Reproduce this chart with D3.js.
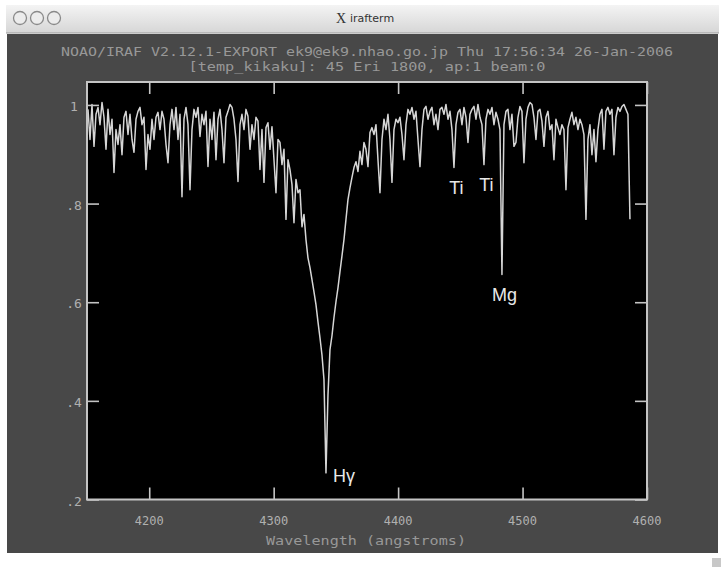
<!DOCTYPE html>
<html><head><meta charset="utf-8">
<script src="https://cdn.jsdelivr.net/npm/d3@7"></script>
<style>html,body{margin:0;padding:0;background:#fff;}svg{display:block}</style>
</head><body>
<svg id="c" width="727" height="573"></svg>
<script>
// ---------- data ----------
const windowTitle = "irafterm";
const headerLines = [
  "NOAO/IRAF V2.12.1-EXPORT ek9@ek9.nhao.go.jp Thu 17:56:34 26-Jan-2006",
  "[temp_kikaku]: 45 Eri 1800, ap:1 beam:0"
];
const xTicks = [4200, 4300, 4400, 4500, 4600];
const xTickLabels = ["4200", "4300", "4400", "4500", "4600"];
const yTicks = [0.2, 0.4, 0.6, 0.8, 1.0];
const yTickLabels = [".2", ".4", ".6", ".8", "1"];
const xTitle = "Wavelength (angstroms)";
// dispersion solution (start wavelength, angstroms per pixel)
const startWavelength = 4150.8;
const wavelengthStep = 1.607;
// normalised flux
const flux = [
  0.991,0.930,1.001,0.916,0.981,0.995,0.960,1.005,0.975,0.910,
  0.991,0.940,0.971,0.863,0.950,0.920,0.960,0.899,0.975,0.987,
  0.940,0.981,0.930,0.904,0.971,0.987,0.995,0.960,0.975,0.869,
  0.940,0.910,0.971,0.930,0.975,0.985,0.950,0.987,0.971,0.920,
  0.883,0.960,0.991,0.950,0.995,0.930,0.981,0.814,0.971,0.995,
  0.960,0.828,0.950,0.991,0.975,0.995,0.936,0.981,0.960,0.987,
  0.875,0.971,0.930,0.985,0.889,0.971,0.991,0.950,0.883,0.975,
  0.987,1.001,0.995,0.971,0.930,0.845,0.960,0.981,0.950,0.991,
  0.977,0.910,0.960,0.930,0.975,0.967,0.869,0.950,0.843,0.954,
  0.964,0.910,0.956,0.889,0.822,0.930,0.924,0.879,0.910,0.768,
  0.889,0.869,0.839,0.761,0.849,0.822,0.828,0.753,0.778,0.727,
  0.690,0.670,0.646,0.621,0.595,0.560,0.528,0.493,0.443,0.254,
  0.412,0.504,0.532,0.569,0.601,0.629,0.662,0.694,0.727,0.768,
  0.808,0.832,0.853,0.873,0.885,0.865,0.906,0.879,0.924,0.910,
  0.875,0.944,0.954,0.940,0.960,0.889,0.822,0.930,0.971,0.950,
  0.981,0.930,0.843,0.950,0.971,0.964,0.975,0.940,0.889,0.960,
  0.991,0.981,0.995,0.971,0.987,0.930,0.875,0.950,0.991,0.997,
  0.971,0.987,0.995,0.960,0.981,0.950,0.991,0.995,0.981,1.001,
  0.971,0.987,0.950,0.873,0.960,0.985,0.991,0.960,0.995,0.975,
  0.924,0.981,0.991,0.997,0.971,1.001,0.975,0.960,0.879,0.971,
  0.991,0.981,0.995,0.960,0.985,0.971,0.950,0.656,0.960,0.987,
  0.991,0.950,0.981,0.916,0.924,0.975,0.997,0.987,0.883,0.971,
  0.995,1.005,1.001,0.975,0.930,0.987,0.991,0.967,0.916,0.975,
  0.987,0.950,0.960,0.889,0.971,0.954,0.940,0.960,0.950,0.828,
  0.954,0.971,0.985,0.960,0.975,0.950,0.971,0.960,0.940,0.768,
  0.930,0.960,0.899,0.950,0.885,0.950,0.981,0.991,0.910,0.987,
  0.995,0.981,0.991,0.899,0.975,0.995,0.987,0.997,1.001,0.991,
  0.981,0.768
];
const lineLabels = ["Ti", "Ti", "Mg", "H\u03b3"];
const lineWavelengths = [4443.8, 4468.5, 4481.2, 4340.5];

// ---------- drawing ----------
const svg = d3.select("#c");
const W = 727, H = 573;
const plot = {left: 87, right: 647, top: 82, bottom: 499.5};

// window chrome
const defs = svg.append("defs");
const g1 = defs.append("linearGradient").attr("id","tb").attr("x1",0).attr("y1",0).attr("x2",0).attr("y2",1);
g1.append("stop").attr("offset","0%").attr("stop-color","#f4f4f4");
g1.append("stop").attr("offset","100%").attr("stop-color","#d6d6d6");

svg.append("rect").attr("x",0).attr("y",0).attr("width",W).attr("height",H).attr("fill","#ffffff");
svg.append("rect").attr("x",6).attr("y",5).attr("width",713).attr("height",28).attr("fill","url(#tb)");
svg.append("line").attr("x1",6).attr("x2",719).attr("y1",33).attr("y2",33).attr("stroke","#9a9a9a").attr("stroke-width",1);
[20, 37, 54].forEach(cx => {
  svg.append("circle").attr("cx",cx).attr("cy",18).attr("r",6.5)
    .attr("fill","#ececec").attr("stroke","#8a8a8a").attr("stroke-width",1.3);
});
svg.append("text").attr("x",336).attr("y",23).attr("font-family","Liberation Serif, serif")
  .attr("font-size",14).attr("fill","#333").text("X");
svg.append("text").attr("x",350).attr("y",22).attr("font-family","DejaVu Sans, sans-serif")
  .attr("font-size",11).attr("fill","#333").text(windowTitle);

// terminal background
svg.append("rect").attr("x",7).attr("y",34).attr("width",711).attr("height",519).attr("fill","#484848");
svg.append("rect").attr("x",712).attr("y",558).attr("width",9).attr("height",9).attr("fill","#c8c8c8");

// plot area
svg.append("rect").attr("x",plot.left).attr("y",plot.top)
  .attr("width",plot.right-plot.left).attr("height",plot.bottom-plot.top).attr("fill","#000");

const x = d3.scaleLinear().domain([4150, 4600]).range([plot.left, plot.right]);
const y = d3.scaleLinear().domain([0.2, 1.0465]).range([plot.bottom, plot.top]);

const spectrum = flux.map((f, i) => ({w: startWavelength + i * wavelengthStep, f}));

const clip = defs.append("clipPath").attr("id","pc");
clip.append("rect").attr("x",plot.left).attr("y",plot.top)
  .attr("width",plot.right-plot.left).attr("height",plot.bottom-plot.top);

svg.append("path").datum(spectrum)
  .attr("clip-path","url(#pc)")
  .attr("fill","none").attr("stroke","#d6d6d6").attr("stroke-width",1.5)
  .attr("stroke-linejoin","round")
  .attr("d", d3.line().x(d => x(d.w)).y(d => y(d.f)));

// frame & ticks
const frameColor = "#c4c4c4";
const tickLen = 12;
const axG = svg.append("g");
axG.append("g").attr("transform",`translate(0,${plot.bottom})`)
  .call(d3.axisBottom(x).tickValues(xTicks).tickSize(-tickLen).tickFormat(""));
axG.append("g").attr("transform",`translate(0,${plot.top})`)
  .call(d3.axisTop(x).tickValues(xTicks).tickSize(-tickLen).tickFormat(""));
axG.append("g").attr("transform",`translate(${plot.left},0)`)
  .call(d3.axisLeft(y).tickValues(yTicks).tickSize(-tickLen).tickFormat(""));
axG.append("g").attr("transform",`translate(${plot.right},0)`)
  .call(d3.axisRight(y).tickValues(yTicks).tickSize(-tickLen).tickFormat(""));
axG.selectAll("path.domain").remove();
axG.selectAll(".tick line").attr("stroke",frameColor).attr("stroke-width",1.6);
svg.append("rect").attr("x",plot.left).attr("y",plot.top)
  .attr("width",plot.right-plot.left).attr("height",plot.bottom-plot.top)
  .attr("fill","none").attr("stroke",frameColor).attr("stroke-width",2);

// tick labels
const labFont = "DejaVu Sans Mono, monospace";
svg.append("g").selectAll("text").data(xTicks).join("text")
  .attr("x", d => x(d)).attr("y", plot.bottom + 25)
  .attr("text-anchor","middle").attr("font-family",labFont).attr("font-size",12)
  .attr("fill","#b0b0b0").text((d,i) => xTickLabels[i]);
svg.append("g").selectAll("text").data(yTicks).join("text")
  .attr("x", 74).attr("y", d => y(d) + 6)
  .attr("text-anchor","middle").attr("font-family",labFont).attr("font-size",13)
  .attr("fill","#b0b0b0").text((d,i) => yTickLabels[i]);

// axis title
svg.append("text").attr("x",(plot.left+plot.right)/2 - 1).attr("y",545)
  .attr("text-anchor","middle").attr("font-family",labFont).attr("font-size",12)
  .attr("textLength",200).attr("lengthAdjust","spacingAndGlyphs")
  .attr("fill","#989898").text(xTitle);

// header
const headerLens = [612, 357];
headerLines.forEach((t, i) => {
  svg.append("text").attr("x",(plot.left+plot.right)/2).attr("y",55.5 + i*15.5)
    .attr("text-anchor","middle").attr("font-family",labFont).attr("font-size",12)
    .attr("textLength",headerLens[i]).attr("lengthAdjust","spacingAndGlyphs")
    .attr("fill","#989898").text(t);
});

// line identifications
const deepest = d3.min(flux);
lineLabels.forEach((lab, i) => {
  const w0 = lineWavelengths[i];
  const near = spectrum.filter(d => Math.abs(d.w - w0) <= 3);
  const p = near.reduce((a, b) => (b.f < a.f ? b : a));
  const px = x(p.w), py = y(p.f);
  const t = svg.append("text").attr("font-family","Liberation Sans, Arial, sans-serif")
    .attr("font-size",18).attr("fill","#e8e8e8").text(lab);
  if (p.f === deepest) {
    t.attr("x", px + 7).attr("y", py + 9).attr("text-anchor","start");
  } else {
    t.attr("x", px + 2.5).attr("y", py + 26).attr("text-anchor","middle");
  }
});
</script>
</body></html>
